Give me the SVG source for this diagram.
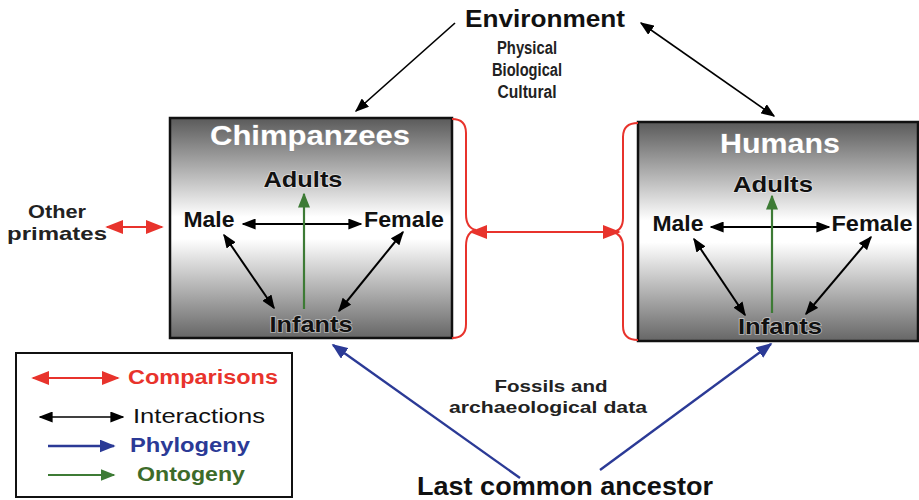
<svg xmlns="http://www.w3.org/2000/svg" width="919" height="500" viewBox="0 0 919 500">
<defs>
<linearGradient id="boxgrad" x1="0" y1="0" x2="0" y2="1">
<stop offset="0" stop-color="#5a5a5a"/>
<stop offset="0.45" stop-color="#ffffff"/>
<stop offset="0.55" stop-color="#ffffff"/>
<stop offset="1" stop-color="#666666"/>
</linearGradient>
<marker id="ak" viewBox="0 0 10 10" refX="9" refY="5" markerWidth="14" markerHeight="11" markerUnits="userSpaceOnUse" orient="auto-start-reverse" preserveAspectRatio="none"><path d="M0,0 L10,5 L0,10 z" fill="#000"/></marker>
<marker id="ar" viewBox="0 0 10 10" refX="9" refY="5" markerWidth="18" markerHeight="14" markerUnits="userSpaceOnUse" orient="auto-start-reverse" preserveAspectRatio="none"><path d="M0,0 L10,5 L0,10 z" fill="#e8332c"/></marker>
<marker id="ab" viewBox="0 0 10 10" refX="9" refY="5" markerWidth="16" markerHeight="13" markerUnits="userSpaceOnUse" orient="auto-start-reverse" preserveAspectRatio="none"><path d="M0,0 L10,5 L0,10 z" fill="#2b3a96"/></marker>
<marker id="ag" viewBox="0 0 10 10" refX="9" refY="5" markerWidth="15" markerHeight="12" markerUnits="userSpaceOnUse" orient="auto-start-reverse" preserveAspectRatio="none"><path d="M0,0 L10,5 L0,10 z" fill="#3d7b35"/></marker>
</defs>
<style>
text{font-family:"Liberation Sans",Arial,Helvetica,sans-serif;font-weight:bold;text-anchor:middle;fill:#111}
.box{fill:url(#boxgrad);stroke:#111;stroke-width:2.5}
.title{fill:#fff;font-size:28px;stroke:#888;stroke-width:1;paint-order:stroke}
.in{font-size:22px;stroke:#fff;stroke-opacity:.5;stroke-width:1.5;paint-order:stroke}
.lk{stroke:#000;stroke-width:2;fill:none;marker-start:url(#ak);marker-end:url(#ak)}
.lk1{stroke:#000;stroke-width:1.6;fill:none;marker-end:url(#ak)}
.lk2{stroke:#000;stroke-width:1.6;fill:none;marker-start:url(#ak);marker-end:url(#ak)}
.lg{stroke:#3d7b35;stroke-width:2.2;fill:none;marker-end:url(#ag)}
.lr{stroke:#e8332c;stroke-width:2.2;fill:none;marker-start:url(#ar);marker-end:url(#ar)}
.lb{stroke:#2b3a96;stroke-width:2.4;fill:none;marker-end:url(#ab)}
.brace{stroke:#e8332c;stroke-width:2;fill:none}
.env{font-size:18px;fill:#222}
</style>

<g id="environment">
<text x="545" y="27" font-size="24" textLength="160" lengthAdjust="spacingAndGlyphs">Environment</text>
<text x="527" y="54" class="env" textLength="60" lengthAdjust="spacingAndGlyphs">Physical</text>
<text x="527" y="76" class="env" textLength="70" lengthAdjust="spacingAndGlyphs">Biological</text>
<text x="527" y="98" class="env" textLength="59" lengthAdjust="spacingAndGlyphs">Cultural</text>
</g>

<g id="chimpanzees">
<rect class="box" x="170" y="118" width="282" height="220"/>
<text class="title" x="310" y="145" textLength="200" lengthAdjust="spacingAndGlyphs">Chimpanzees</text>
<text class="in" x="303" y="187" textLength="79" lengthAdjust="spacingAndGlyphs">Adults</text>
<text class="in" x="209" y="227" textLength="51" lengthAdjust="spacingAndGlyphs">Male</text>
<text class="in" x="404" y="227" textLength="80" lengthAdjust="spacingAndGlyphs">Female</text>
<text class="in" x="311" y="332" textLength="83" lengthAdjust="spacingAndGlyphs">Infants</text>
</g>

<g id="humans">
<rect class="box" x="638" y="122" width="280" height="219"/>
<text class="title" x="780" y="153" textLength="120" lengthAdjust="spacingAndGlyphs">Humans</text>
<text class="in" x="773" y="192" textLength="80" lengthAdjust="spacingAndGlyphs">Adults</text>
<text class="in" x="678" y="231" textLength="51" lengthAdjust="spacingAndGlyphs">Male</text>
<text class="in" x="872" y="231" textLength="81" lengthAdjust="spacingAndGlyphs">Female</text>
<text class="in" x="780" y="334" textLength="84" lengthAdjust="spacingAndGlyphs">Infants</text>
</g>

<g id="other-primates">
<text x="57" y="218" font-size="19" fill="#222" style="fill:#222" textLength="58" lengthAdjust="spacingAndGlyphs">Other</text>
<text x="57" y="240" font-size="19" style="fill:#222" textLength="100" lengthAdjust="spacingAndGlyphs">primates</text>
</g>

<g id="fossils">
<text x="551" y="392" font-size="17" style="fill:#222" textLength="113" lengthAdjust="spacingAndGlyphs">Fossils and</text>
<text x="548" y="413" font-size="17" style="fill:#222" textLength="198" lengthAdjust="spacingAndGlyphs">archaeological data</text>
</g>

<g id="last-common-ancestor">
<text x="565" y="495" font-size="26" textLength="296" lengthAdjust="spacingAndGlyphs">Last common ancestor</text>
</g>

<g id="legend">
<rect x="16" y="353" width="276" height="144" fill="#fff" stroke="#111" stroke-width="2"/>
<line class="lr" x1="33" y1="378" x2="118" y2="378"/>
<text x="203" y="384" font-size="20" style="fill:#e8332c" textLength="150" lengthAdjust="spacingAndGlyphs">Comparisons</text>
<line class="lk2" x1="40" y1="417" x2="123" y2="417"/>
<text x="199" y="423" font-size="20" style="font-weight:normal" textLength="132" lengthAdjust="spacingAndGlyphs">Interactions</text>
<line class="lb" x1="48" y1="446" x2="114" y2="446"/>
<text x="190" y="452" font-size="20" style="fill:#2b3a96" textLength="120" lengthAdjust="spacingAndGlyphs">Phylogeny</text>
<line class="lg" x1="48" y1="475" x2="114" y2="475"/>
<text x="191" y="481" font-size="20" style="fill:#3d6b2a" textLength="108" lengthAdjust="spacingAndGlyphs">Ontogeny</text>
</g>

<g id="connectors">
<line class="lk" x1="243" y1="224" x2="361" y2="224"/>
<line class="lk" x1="224" y1="235" x2="274" y2="308"/>
<line class="lk" x1="403" y1="232" x2="339" y2="311"/>
<line class="lg" x1="304" y1="309" x2="304" y2="194"/>
<line class="lk" x1="711" y1="227" x2="829" y2="227"/>
<line class="lk" x1="694" y1="239" x2="745" y2="315"/>
<line class="lk" x1="871" y1="237" x2="806" y2="314"/>
<line class="lg" x1="772" y1="313" x2="772" y2="196"/>
<line class="lk1" x1="455" y1="23" x2="356" y2="111"/>
<line class="lk2" x1="641" y1="23" x2="774" y2="116"/>
<path class="brace" d="M452,119 Q466,119 466,133 L466,214 Q466,228 476,230 Q466,232 466,246 L466,324 Q466,338 452,338"/>
<path class="brace" d="M638,123 Q623,123 623,137 L623,218 Q623,231 612,232 Q623,234 623,247 L623,326 Q623,340 638,340"/>
<line class="lr" x1="471" y1="232" x2="619" y2="232"/>
<line class="lr" x1="107" y1="227" x2="162" y2="227"/>
<line class="lb" x1="520" y1="478" x2="333" y2="345"/>
<line class="lb" x1="600" y1="470" x2="771" y2="344"/>
</g>
</svg>
